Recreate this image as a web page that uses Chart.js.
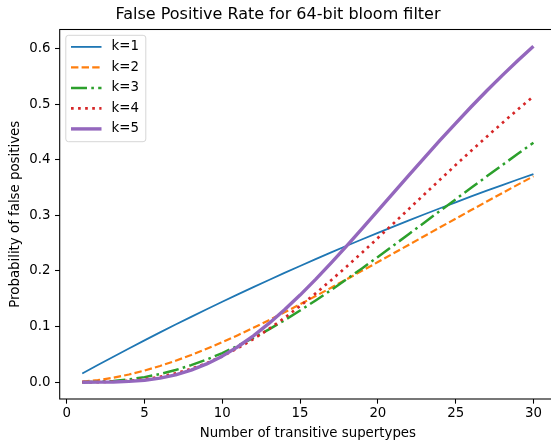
<!DOCTYPE html>
<html><head><meta charset="utf-8">
<script src="https://cdn.jsdelivr.net/npm/chart.js@4.4.0/dist/chart.umd.min.js"></script>
<style>html,body{margin:0;padding:0;overflow:hidden;background:#fff}#wrap{width:551px;height:444px;overflow:hidden;position:relative;background:#fff}canvas{position:absolute;left:0;top:0}</style>
</head><body><div id="wrap"><canvas id="c" width="557" height="444" style="width:557px;height:444px"></canvas></div>
<script>
const nValues = [1,2,3,4,5,6,7,8,9,10,11,12,13,14,15,16,17,18,19,20,21,22,23,24,25,26,27,28,29,30];
const k1 = [0.0155,0.0308,0.0458,0.0606,0.0752,0.0895,0.1036,0.1175,0.1312,0.1447,0.1579,0.1710,0.1838,0.1965,0.2089,0.2212,0.2333,0.2452,0.2569,0.2684,0.2797,0.2909,0.3019,0.3127,0.3234,0.3339,0.3442,0.3544,0.3644,0.3742];
const k2 = [0.0009,0.0037,0.0080,0.0138,0.0209,0.0292,0.0386,0.0489,0.0601,0.0720,0.0846,0.0978,0.1115,0.1256,0.1400,0.1548,0.1699,0.1851,0.2005,0.2160,0.2316,0.2472,0.2628,0.2784,0.2939,0.3094,0.3248,0.3401,0.3552,0.3701];
const k3 = [0.0001,0.0007,0.0023,0.0050,0.0091,0.0147,0.0219,0.0306,0.0408,0.0524,0.0654,0.0796,0.0950,0.1114,0.1288,0.1469,0.1657,0.1851,0.2050,0.2252,0.2457,0.2664,0.2872,0.3080,0.3288,0.3495,0.3700,0.3904,0.4105,0.4303];
const k4 = [0.0000,0.0002,0.0009,0.0024,0.0052,0.0096,0.0158,0.0240,0.0343,0.0466,0.0611,0.0775,0.0957,0.1156,0.1370,0.1597,0.1834,0.2080,0.2333,0.2592,0.2853,0.3116,0.3380,0.3642,0.3903,0.4160,0.4412,0.4660,0.4902,0.5138];
const k5 = [0.0000,0.0001,0.0004,0.0014,0.0035,0.0073,0.0133,0.0217,0.0328,0.0468,0.0637,0.0834,0.1056,0.1301,0.1566,0.1849,0.2145,0.2452,0.2766,0.3085,0.3405,0.3723,0.4039,0.4350,0.4654,0.4951,0.5238,0.5515,0.5782,0.6038];
const seriesLabels = ['k=1','k=2','k=3','k=4','k=5'];
const xTicks = [0,5,10,15,20,25,30];
const yTicks = [0.0,0.1,0.2,0.3,0.4,0.5,0.6];

const FONT = "'DejaVu Sans', sans-serif";
const styles = [
  {c:'#1f77b4', w:1.8, d:[]},
  {c:'#ff7f0e', w:2.2, d:[7.4,3.2]},
  {c:'#2ca02c', w:2.5, d:[16,4.3,2.6,4.3]},
  {c:'#d62728', w:2.67, d:[2.67,4.4]},
  {c:'#9467bd', w:3.4, d:[]}
];
const series = [k1,k2,k3,k4,k5];
const datasets = series.map((arr,i)=>({
  label: seriesLabels[i],
  data: nValues.map((n,j)=>({x:n,y:arr[j]})),
  borderColor: styles[i].c,
  borderWidth: styles[i].w,
  borderDash: styles[i].d,
  borderCapStyle: 'butt',
  borderJoinStyle: 'round',
  pointRadius: 0,
  tension: 0,
  fill: false,
  order: 5 - i
}));

const framePlugin = {
  id: 'frame',
  afterDatasetsDraw(chart) {
    const {ctx, chartArea: a} = chart;
    ctx.save();
    ctx.strokeStyle = '#000';
    ctx.lineWidth = 1.07;
    ctx.strokeRect(a.left, a.top, a.right - a.left, a.bottom - a.top);
    ctx.restore();
  }
};
const legendPlugin = {
  id: 'mplLegend',
  afterDraw(chart) {
    const ctx = chart.ctx;
    const bx = 65.8, by = 35.3, bw = 80, bh = 106.4, r = 2.7;
    ctx.save();
    ctx.beginPath();
    ctx.roundRect(bx, by, bw, bh, r);
    ctx.fillStyle = 'rgba(255,255,255,0.8)';
    ctx.fill();
    ctx.strokeStyle = 'rgba(204,204,204,0.8)';
    ctx.lineWidth = 1;
    ctx.stroke();
    chart.data.datasets.forEach((ds, i) => {
      const y = 46.9 + i * 20.5;
      ctx.beginPath();
      ctx.setLineDash(ds.borderDash || []);
      ctx.lineCap = 'butt';
      ctx.strokeStyle = ds.borderColor;
      ctx.lineWidth = ds.borderWidth;
      ctx.moveTo(71, y);
      ctx.lineTo(101.5, y);
      ctx.stroke();
      ctx.setLineDash([]);
      ctx.fillStyle = '#000';
      ctx.font = "13.33px " + FONT;
      ctx.textBaseline = 'middle';
      ctx.textAlign = 'left';
      ctx.fillText(ds.label, 111.5, y);
    });
    ctx.restore();
  }
};

new Chart(document.getElementById('c'), {
  type: 'line',
  data: { datasets },
  options: {
    responsive: false,
    animation: false,
    devicePixelRatio: 1,
    layout: { padding: { left: 0, right: 1, top: 0, bottom: 0 } },
    plugins: {
      legend: { display: false },
      tooltip: { enabled: false },
      title: {
        display: true,
        text: 'False Positive Rate for 64-bit bloom filter',
        color: '#000',
        font: { family: FONT, size: 16, weight: 'normal' },
        padding: { top: 5.0, bottom: 5.3 }
      }
    },
    scales: {
      x: {
        type: 'linear',
        min: -0.45, max: 31.45,
        afterBuildTicks: s => { s.ticks = xTicks.map(v => ({value: v})); },
        afterFit: s => { s.height = 45; },
        ticks: { color: '#000', font: { family: FONT, size: 13.33 }, padding: 2.3, maxRotation: 0, autoSkip: false,
                 callback: v => String(v) },
        grid: { drawOnChartArea: false, drawTicks: true, tickLength: 4.67, tickColor: '#000', tickWidth: 1.07 },
        border: { display: false },
        title: { display: true, text: 'Number of transitive supertypes', color: '#000',
                 font: { family: FONT, size: 13.33 }, padding: { top: 0, bottom: 2.5 } }
      },
      y: {
        type: 'linear',
        min: -0.0302, max: 0.634,
        afterBuildTicks: s => { s.ticks = yTicks.map(v => ({value: v})); },
        afterFit: s => { s.width = 59.7; },
        ticks: { color: '#000', font: { family: FONT, size: 13.33 }, padding: 4.6, autoSkip: false,
                 callback: v => Number(v).toFixed(1) },
        grid: { drawOnChartArea: false, drawTicks: true, tickLength: 4.67, tickColor: '#000', tickWidth: 1.07 },
        border: { display: false },
        title: { display: true, text: 'Probability of false positives', color: '#000',
                 font: { family: FONT, size: 13.33 }, padding: { top: 7.8, bottom: 0 } }
      }
    }
  },
  plugins: [framePlugin, legendPlugin]
});
</script>
</body></html>
